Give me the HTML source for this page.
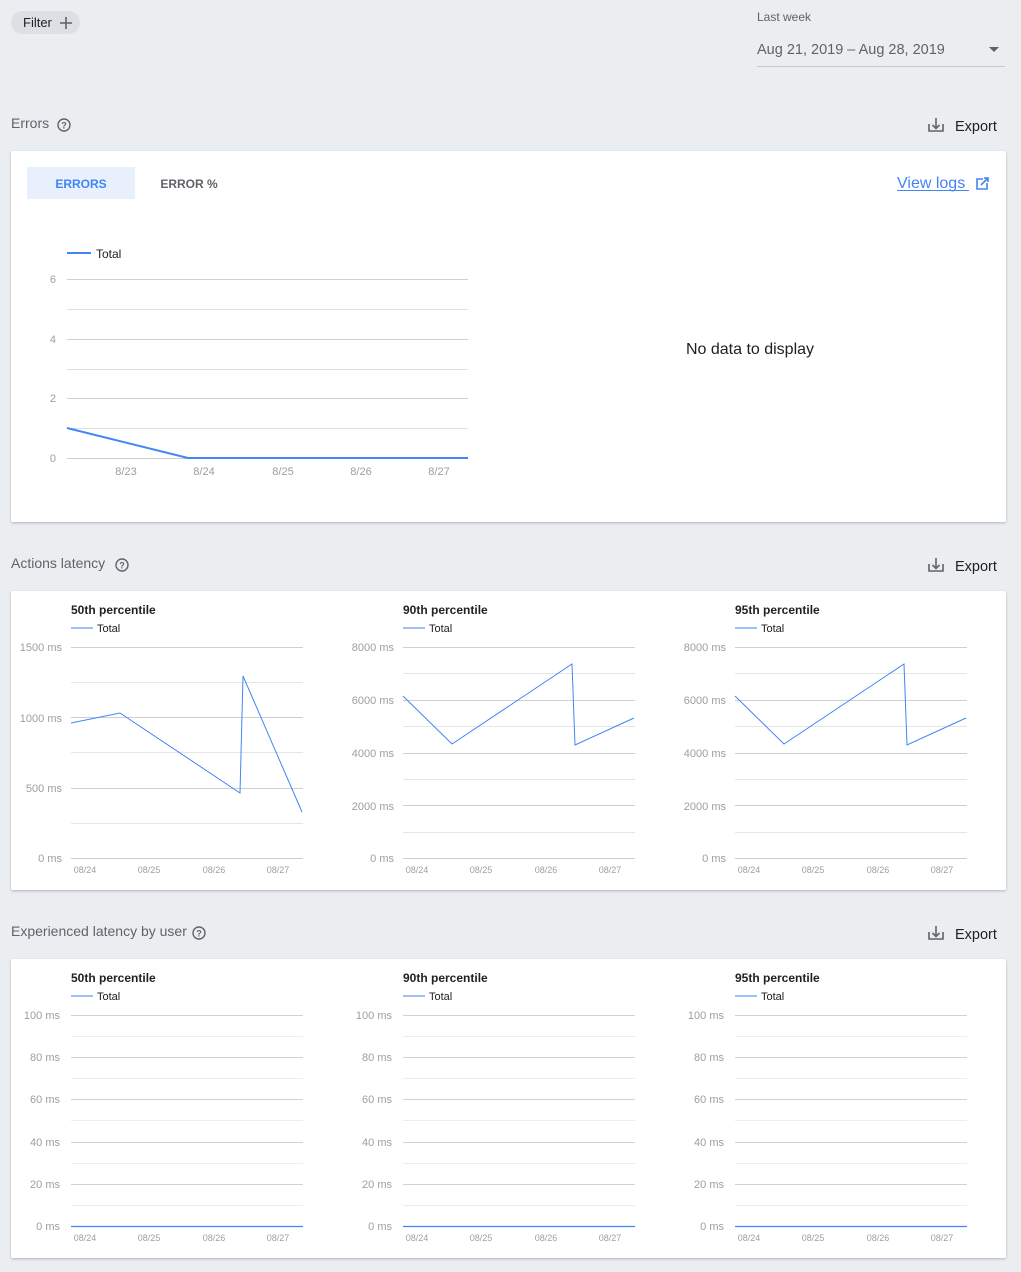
<!DOCTYPE html>
<html><head><meta charset="utf-8"><style>
html,body{margin:0;padding:0;background:#ebeef1;}
svg{display:block;font-family:"Liberation Sans",Arial,sans-serif;}
</style></head><body>
<svg width="1021" height="1272" viewBox="0 0 1021 1272" xmlns="http://www.w3.org/2000/svg">
<defs>
<filter id="sh" x="-2%" y="-2%" width="104%" height="106%"><feDropShadow dx="0" dy="1" stdDeviation="1.2" flood-color="#000" flood-opacity="0.25"/></filter>
<g id="help"><circle cx="0" cy="0" r="6" fill="none" stroke="#5f6368" stroke-width="1.4"/><text x="0" y="3.5" font-size="9" font-weight="bold" fill="#5f6368" text-anchor="middle">?</text></g>
<g id="dl" fill="none" stroke="#5f6368" stroke-width="1.6"><path d="M-7,-1 V6 H7 V-1"/><path d="M0,-7 V3 M-3.5,0 L0,3.5 L3.5,0"/></g>
</defs>
<rect width="1021" height="1272" fill="#ebeef1"/>

<!-- header -->
<rect x="11" y="11" width="69" height="23" rx="11.5" fill="#dcdfe3"/>
<text x="23" y="27" font-size="13" fill="#202124">Filter</text>
<path d="M66,17 V29 M60,23 H72" stroke="#5f6368" stroke-width="1.6"/>
<text x="757" y="21" font-size="12" fill="#5f6368">Last week</text>
<text x="757" y="54" font-size="14.5" fill="#5f6368">Aug 21, 2019 – Aug 28, 2019</text>
<path d="M989,47 L999,47 L994,52 Z" fill="#5f6368"/>
<line x1="757" y1="66.5" x2="1005" y2="66.5" stroke="#c5c8cc"/>

<!-- section titles -->
<text x="11" y="128" font-size="14" fill="#5f6368">Errors</text>
<use href="#help" x="64" y="125"/>
<use href="#dl" x="936" y="125"/>
<text x="955" y="131" font-size="14.5" fill="#202124">Export</text>

<text x="11" y="568" font-size="14" fill="#5f6368">Actions latency</text>
<use href="#help" x="122" y="565"/>
<use href="#dl" x="936" y="565"/>
<text x="955" y="571" font-size="14.5" fill="#202124">Export</text>

<text x="11" y="936" font-size="14" fill="#5f6368">Experienced latency by user</text>
<use href="#help" x="199" y="933"/>
<use href="#dl" x="936" y="933"/>
<text x="955" y="939" font-size="14.5" fill="#202124">Export</text>

<!-- cards -->
<rect x="11" y="151" width="995" height="371" rx="2" fill="#fff" filter="url(#sh)"/>
<rect x="11" y="591" width="995" height="299" rx="2" fill="#fff" filter="url(#sh)"/>
<rect x="11" y="959" width="995" height="299" rx="2" fill="#fff" filter="url(#sh)"/>

<!-- errors card -->
<rect x="27" y="167" width="108" height="32" fill="#e8f0fe"/>
<text x="81" y="188" font-size="12" font-weight="bold" fill="#4285f4" text-anchor="middle">ERRORS</text>
<text x="189" y="188" font-size="12" font-weight="bold" fill="#5f6368" text-anchor="middle">ERROR %</text>
<text x="897" y="188" font-size="16" fill="#4285f4">View logs </text>
<line x1="897" y1="190.5" x2="969" y2="190.5" stroke="#4285f4"/>
<g fill="none" stroke="#4285f4" stroke-width="1.6"><path d="M983,179 H977 V189 H987 V183"/><path d="M981,185 L988,178 M984,178 H988 V182"/></g>
<text x="750" y="354" font-size="16" fill="#202124" text-anchor="middle">No data to display</text>

<line x1="67" y1="253" x2="91" y2="253" stroke="#4285f4" stroke-width="2"/>
<text x="96" y="258" font-size="12" fill="#202124">Total</text>
<g stroke="#e0e0e0"><line x1="67" y1="309.5" x2="468" y2="309.5"/><line x1="67" y1="369.5" x2="468" y2="369.5"/><line x1="67" y1="428.5" x2="468" y2="428.5"/></g>
<g stroke="#cfcfcf"><line x1="67" y1="279.5" x2="468" y2="279.5"/><line x1="67" y1="339.5" x2="468" y2="339.5"/><line x1="67" y1="398.5" x2="468" y2="398.5"/><line x1="67" y1="458.5" x2="468" y2="458.5"/></g>
<g font-size="11" fill="#9e9e9e" text-anchor="end"><text x="56" y="283">6</text><text x="56" y="343">4</text><text x="56" y="402">2</text><text x="56" y="462">0</text></g>
<g font-size="11" fill="#9e9e9e" text-anchor="middle"><text x="126" y="475">8/23</text><text x="204" y="475">8/24</text><text x="283" y="475">8/25</text><text x="361" y="475">8/26</text><text x="439" y="475">8/27</text></g>
<polyline points="67,428 188,458 468,458" fill="none" stroke="#4285f4" stroke-width="2"/>

<!-- Actions latency panels -->
<g id="p50">
<text x="71" y="614" font-size="12" font-weight="bold" fill="#202124">50th percentile</text>
<line x1="71" y1="628" x2="93" y2="628" stroke="#4285f4"/>
<text x="97" y="632" font-size="11" fill="#202124">Total</text>
<g stroke="#e6e6e6"><line x1="71" y1="682.5" x2="303" y2="682.5"/><line x1="71" y1="752.5" x2="303" y2="752.5"/><line x1="71" y1="823.5" x2="303" y2="823.5"/></g>
<g stroke="#cfcfcf"><line x1="71" y1="647.5" x2="303" y2="647.5"/><line x1="71" y1="717.5" x2="303" y2="717.5"/><line x1="71" y1="788.5" x2="303" y2="788.5"/><line x1="71" y1="858.5" x2="303" y2="858.5"/></g>
<g font-size="11" fill="#9e9e9e" text-anchor="end"><text x="62" y="651">1500 ms</text><text x="62" y="722">1000 ms</text><text x="62" y="792">500 ms</text><text x="62" y="862">0 ms</text></g>
<polyline points="71,723 120,713 240,793 243,676 302,812" fill="none" stroke="#4285f4" stroke-width="1"/>
</g>
<g font-size="9" fill="#9e9e9e" text-anchor="middle" id="xl1"><text x="85" y="873">08/24</text><text x="149" y="873">08/25</text><text x="214" y="873">08/26</text><text x="278" y="873">08/27</text></g>
<use href="#xl1" x="332"/><use href="#xl1" x="664"/>

<g id="p90">
<text x="403" y="614" font-size="12" font-weight="bold" fill="#202124">90th percentile</text>
<line x1="403" y1="628" x2="425" y2="628" stroke="#4285f4"/>
<text x="429" y="632" font-size="11" fill="#202124">Total</text>
<g stroke="#e6e6e6"><line x1="403" y1="673.5" x2="635" y2="673.5"/><line x1="403" y1="726.5" x2="635" y2="726.5"/><line x1="403" y1="779.5" x2="635" y2="779.5"/><line x1="403" y1="832.5" x2="635" y2="832.5"/></g>
<g stroke="#cfcfcf"><line x1="403" y1="647.5" x2="635" y2="647.5"/><line x1="403" y1="700.5" x2="635" y2="700.5"/><line x1="403" y1="753.5" x2="635" y2="753.5"/><line x1="403" y1="805.5" x2="635" y2="805.5"/><line x1="403" y1="858.5" x2="635" y2="858.5"/></g>
<g font-size="11" fill="#9e9e9e" text-anchor="end"><text x="394" y="651">8000 ms</text><text x="394" y="704">6000 ms</text><text x="394" y="757">4000 ms</text><text x="394" y="810">2000 ms</text><text x="394" y="862">0 ms</text></g>
<polyline points="403,696 452,744 572,664 575,745 634,718" fill="none" stroke="#4285f4" stroke-width="1"/>
</g>
<g transform="translate(332,0)">
<use href="#p90"/>
<rect x="400" y="600" width="90" height="18" fill="#fff"/>
</g>
<text x="735" y="614" font-size="12" font-weight="bold" fill="#202124">95th percentile</text>

<!-- Experienced latency panels -->
<g id="e50">
<g stroke="#ececec"><line x1="71" y1="1036.5" x2="303" y2="1036.5"/><line x1="71" y1="1078.5" x2="303" y2="1078.5"/><line x1="71" y1="1120.5" x2="303" y2="1120.5"/><line x1="71" y1="1163.5" x2="303" y2="1163.5"/><line x1="71" y1="1205.5" x2="303" y2="1205.5"/></g>
<g stroke="#d2d2d2"><line x1="71" y1="1015.5" x2="303" y2="1015.5"/><line x1="71" y1="1057.5" x2="303" y2="1057.5"/><line x1="71" y1="1099.5" x2="303" y2="1099.5"/><line x1="71" y1="1142.5" x2="303" y2="1142.5"/><line x1="71" y1="1184.5" x2="303" y2="1184.5"/></g>
<g font-size="11" fill="#9e9e9e" text-anchor="end"><text x="60" y="1019">100 ms</text><text x="60" y="1061">80 ms</text><text x="60" y="1103">60 ms</text><text x="60" y="1146">40 ms</text><text x="60" y="1188">20 ms</text><text x="60" y="1230">0 ms</text></g>
<line x1="71" y1="1226.5" x2="303" y2="1226.5" stroke="#4285f4" stroke-width="1.2"/>
<line x1="71" y1="996" x2="93" y2="996" stroke="#4285f4"/>
<text x="97" y="1000" font-size="11" fill="#202124">Total</text>
<g font-size="9" fill="#9e9e9e" text-anchor="middle"><text x="85" y="1241">08/24</text><text x="149" y="1241">08/25</text><text x="214" y="1241">08/26</text><text x="278" y="1241">08/27</text></g>
</g>
<use href="#e50" x="332"/><use href="#e50" x="664"/>
<text x="71" y="982" font-size="12" font-weight="bold" fill="#202124">50th percentile</text>
<text x="403" y="982" font-size="12" font-weight="bold" fill="#202124">90th percentile</text>
<text x="735" y="982" font-size="12" font-weight="bold" fill="#202124">95th percentile</text>
</svg>
</body></html>
